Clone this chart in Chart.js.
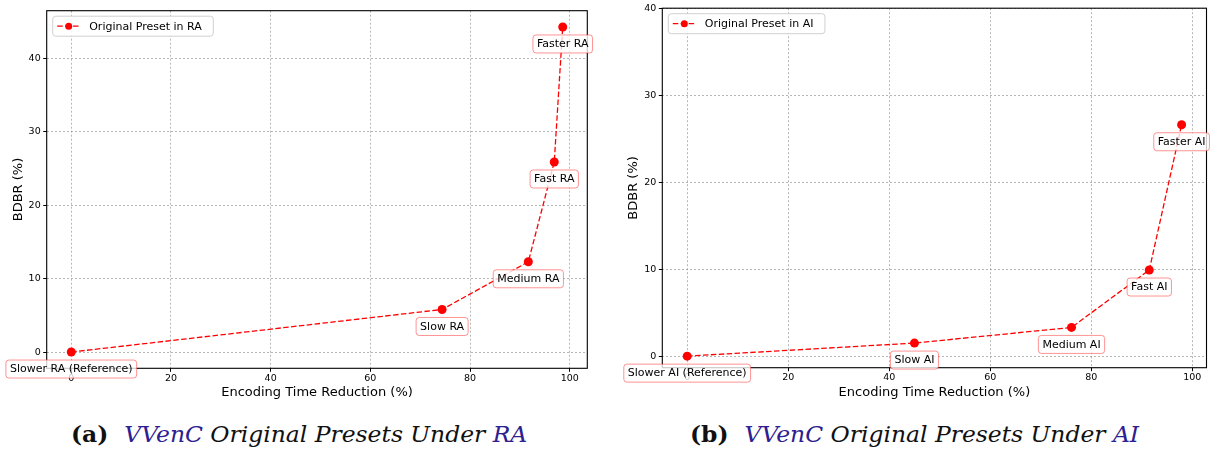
<!DOCTYPE html>
<html>
<head>
<meta charset="utf-8">
<script src="https://cdn.jsdelivr.net/npm/chart.js@4.4.1/dist/chart.umd.min.js"></script>
<style>
  html, body { margin: 0; padding: 0; background: #fff; }
  body { width: 1211px; height: 452px; position: relative; overflow: hidden; }
  canvas { position: absolute; top: 0; }
  #chart-ra { left: 0; }
  #chart-ai { left: 605px; }
  .caption {
    position: absolute; top: 421px; white-space: nowrap;
    font-family: "DejaVu Serif", serif; font-size: 22px; color: #111;
    transform-origin: left top; transform: scaleX(1.065);
  }
  .caption b { font-style: normal; font-weight: bold; margin-right: 15px; }
  .caption i { font-style: italic; }
  .caption .lnk { color: #2e2090; }
</style>
</head>
<body>
<canvas id="chart-ra" width="600" height="400"></canvas>
<canvas id="chart-ai" width="606" height="400"></canvas>
<div class="caption" id="cap-a" style="left:71px"><b>(a)</b><i><span class="lnk">VVenC</span> Original Presets Under <span class="lnk">RA</span></i></div>
<div class="caption" id="cap-b" style="left:690px"><b>(b)</b><i><span class="lnk">VVenC</span> Original Presets Under <span class="lnk">AI</span></i></div>
<script>
"use strict";

// Data ----------------------------------------------------------------------
const raTime = [0, 74.4, 91.7, 96.9, 98.6];
const raBdbr = [0, 5.8, 12.3, 25.9, 44.3];
const raLabels = ["Slower RA (Reference)", "Slow RA", "Medium RA", "Fast RA", "Faster RA"];

const aiTime = [0, 45.0, 76.1, 91.5, 97.9];
const aiBdbr = [0, 1.5, 3.3, 9.9, 26.6];
const aiLabels = ["Slower AI (Reference)", "Slow AI", "Medium AI", "Fast AI", "Faster AI"];

const xTicks = [0, 20, 40, 60, 80, 100];
const raYTicks = [0, 10, 20, 30, 40];
const aiYTicks = [0, 10, 20, 30, 40];

// Helpers -------------------------------------------------------------------
const RED = "#ff0000";
const FONT = "'DejaVu Sans', sans-serif";

function roundRect(ctx, x, y, w, h, r) {
  ctx.beginPath();
  ctx.moveTo(x + r, y);
  ctx.lineTo(x + w - r, y);
  ctx.arcTo(x + w, y, x + w, y + r, r);
  ctx.lineTo(x + w, y + h - r);
  ctx.arcTo(x + w, y + h, x + w - r, y + h, r);
  ctx.lineTo(x + r, y + h);
  ctx.arcTo(x, y + h, x, y + h - r, r);
  ctx.lineTo(x, y + r);
  ctx.arcTo(x, y, x + r, y, r);
  ctx.closePath();
}

// frame, point labels and an inside legend, drawn over the chart
const overlay = {
  id: "overlay",
  afterDraw(chart, args, opts) {
    const { ctx, chartArea: a, scales } = chart;
    ctx.save();
    ctx.strokeStyle = "#000";
    ctx.lineWidth = 1.1;
    ctx.setLineDash([]);
    ctx.strokeRect(a.left, a.top, a.right - a.left, a.bottom - a.top);

    // annotation boxes under each point
    ctx.font = "11px " + FONT;
    ctx.textAlign = "center";
    ctx.textBaseline = "middle";
    const ds = chart.data.datasets[0].data;
    opts.labels.forEach((txt, i) => {
      const px = scales.x.getPixelForValue(ds[i].x);
      const py = scales.y.getPixelForValue(ds[i].y) + 17;
      const w = ctx.measureText(txt).width + 8;
      const h = 18;
      roundRect(ctx, px - w / 2, py - h / 2, w, h, 3);
      ctx.fillStyle = "rgba(255,255,255,0.78)";
      ctx.fill();
      ctx.strokeStyle = "rgba(255,60,60,0.55)";
      ctx.lineWidth = 1;
      ctx.stroke();
      ctx.fillStyle = "#000";
      ctx.fillText(txt, px, py + 0.5);
    });

    // legend
    const lx = a.left + 6, ly = a.top + 5.5;
    ctx.textAlign = "left";
    const tw = ctx.measureText(opts.legend).width;
    roundRect(ctx, lx, ly, tw + 48, 20, 3);
    ctx.fillStyle = "rgba(255,255,255,0.85)";
    ctx.fill();
    ctx.strokeStyle = "#d0d0d0";
    ctx.stroke();
    ctx.strokeStyle = RED;
    ctx.lineWidth = 1.3;
    ctx.setLineDash([5.5, 2.4]);
    ctx.beginPath();
    ctx.moveTo(lx + 4.5, ly + 10);
    ctx.lineTo(lx + 27.5, ly + 10);
    ctx.stroke();
    ctx.setLineDash([]);
    ctx.fillStyle = RED;
    ctx.beginPath();
    ctx.arc(lx + 16, ly + 10, 3.5, 0, Math.PI * 2);
    ctx.fill();
    ctx.fillStyle = "#000";
    ctx.fillText(opts.legend, lx + 36.5, ly + 10.5);
    ctx.restore();
  },
};

function makeChart(id, xs, ys, labels, yTicks, yRange, legend, box) {
  const points = xs.map((x, i) => ({ x, y: ys[i] }));
  const grid = {
    color: "rgba(140,140,140,0.8)", lineWidth: 0.8,
    tickLength: 3.5, tickColor: "#000", tickWidth: 1, tickBorderDash: [],
  };
  // in v4 the grid line dash lives under border.dash
  const border = { display: false, dash: [2, 2] };
  return new Chart(document.getElementById(id), {
    type: "scatter",
    data: {
      datasets: [{
        label: legend,
        data: points,
        showLine: true,
        borderColor: RED,
        backgroundColor: RED,
        borderWidth: 1.3,
        borderDash: [5.5, 2.4],
        pointRadius: 4.5,
        pointHoverRadius: 4.5,
        pointBorderWidth: 0,
      }],
    },
    options: {
      responsive: false,
      animation: false,
      layout: { padding: { left: 0, top: box.top, right: box.right, bottom: 0 } },
      scales: {
        x: {
          type: "linear",
          min: -4.93,
          max: Math.max(...xs) + 4.93,
          afterBuildTicks: (s) => { s.ticks = xTicks.map((v) => ({ value: v })); },
          afterFit: (s) => { s.height = box.xh; },
          ticks: { font: { family: FONT, size: 9.5 }, color: "#000", padding: 1 },
          grid,
          border,
          title: {
            display: true, text: "Encoding Time Reduction (%)", color: "#000",
            font: { family: FONT, size: 13 }, padding: { top: 0, bottom: 0 },
          },
        },
        y: {
          type: "linear",
          min: yRange[0],
          max: yRange[1],
          afterBuildTicks: (s) => { s.ticks = yTicks.map((v) => ({ value: v })); },
          afterFit: (s) => { s.width = box.yw; },
          ticks: { font: { family: FONT, size: 9.5 }, color: "#000", padding: 2.5 },
          grid,
          border,
          title: {
            display: true, text: "BDBR (%)", color: "#000",
            font: { family: FONT, size: 13 }, padding: { top: box.yt, bottom: 0 },
          },
        },
      },
      plugins: {
        legend: { display: false },
        tooltip: { enabled: false },
        overlay: { labels, legend },
      },
    },
    plugins: [overlay],
  });
}

makeChart("chart-ra", raTime, raBdbr, raLabels, raYTicks, [-2.215, 46.515],
  "Original Preset in RA", { top: 10.7, right: 12.7, xh: 31.7, yw: 46.7, yt: 10.5 });
makeChart("chart-ai", aiTime, aiBdbr, aiLabels, aiYTicks, [-1.33, 40],
  "Original Preset in AI", { top: 7.3, right: 4.3, xh: 32.3, yw: 57.3, yt: 21 });
</script>
</body>
</html>
